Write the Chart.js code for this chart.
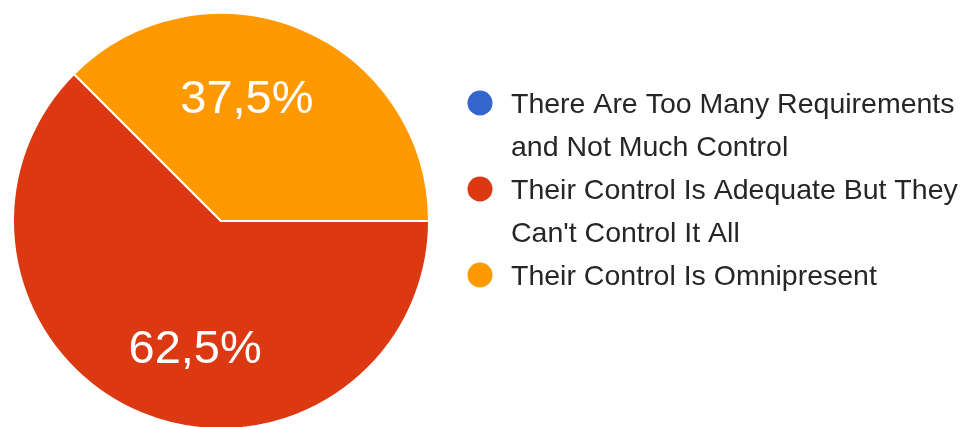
<!DOCTYPE html>
<html>
<head>
<meta charset="utf-8">
<script src="https://cdn.jsdelivr.net/npm/chart.js@4/dist/chart.umd.min.js"></script>
<style>
  html, body { margin: 0; padding: 0; background: #ffffff; overflow: hidden; }
  #wrap { width: 969px; height: 427px; }
</style>
</head>
<body>
<div id="wrap"><canvas id="c" width="969" height="427"></canvas></div>
<script>
// ---- data ----
const categories = [
  "There Are Too Many Requirements and Not Much Control",
  "Their Control Is Adequate But They Can't Control It All",
  "Their Control Is Omnipresent"
];
const shares = [0, 62.5, 37.5];
const sliceColors = ["#3366CC", "#DC3912", "#FF9900"];

const FONT = '"Liberation Sans", Arial, Helvetica, sans-serif';

function fmtPct(v) {
  return v.toFixed(1).replace('.', ',') + '%';
}

// Percentage labels inside slices
const sliceLabels = {
  id: 'sliceLabels',
  afterDatasetsDraw(chart, args, opts) {
    const ctx = chart.ctx;
    const meta = chart.getDatasetMeta(0);
    const data = chart.data.datasets[0].data;
    const total = data.reduce((a, b) => a + b, 0);
    ctx.save();
    ctx.fillStyle = opts.color;
    ctx.font = opts.size + 'px ' + FONT;
    ctx.textAlign = 'center';
    ctx.textBaseline = 'alphabetic';
    meta.data.forEach((arc, i) => {
      const v = data[i];
      if (!v) return;
      const p = arc.getProps(['x', 'y', 'startAngle', 'endAngle', 'outerRadius'], true);
      const mid = (p.startAngle + p.endAngle) / 2;
      const r = p.outerRadius * opts.radiusFrac;
      const lx = p.x + Math.cos(mid) * r * opts.xFactor;
      const ly = p.y + Math.sin(mid) * r;
      ctx.fillText(fmtPct(v / total * 100), lx, ly + opts.size * 0.716 / 2);
    });
    ctx.restore();
  }
};

// Wrapped legend on the right
const wrapLegend = {
  id: 'wrapLegend',
  afterDraw(chart, args, opts) {
    const ctx = chart.ctx;
    const labels = chart.data.labels;
    const colors = chart.data.datasets[0].backgroundColor;
    ctx.save();
    ctx.font = opts.size + 'px ' + FONT;
    ctx.textAlign = 'left';
    ctx.textBaseline = 'alphabetic';
    let lineIdx = 0;
    labels.forEach((text, i) => {
      const words = text.split(' ');
      const lines = [];
      let cur = '';
      words.forEach(w => {
        const test = cur ? cur + ' ' + w : w;
        if (ctx.measureText(test).width > opts.maxWidth && cur) {
          lines.push(cur);
          cur = w;
        } else {
          cur = test;
        }
      });
      if (cur) lines.push(cur);
      const cy = opts.top + lineIdx * opts.lineHeight;
      ctx.fillStyle = colors[i];
      ctx.beginPath();
      ctx.arc(opts.markerX, cy, opts.markerR, 0, Math.PI * 2);
      ctx.fill();
      ctx.fillStyle = opts.color;
      lines.forEach((ln, k) => {
        const y = cy + k * opts.lineHeight + opts.size * 0.716 / 2;
        ctx.fillText(ln, opts.textX, y);
      });
      lineIdx += lines.length;
    });
    ctx.restore();
  }
};

new Chart(document.getElementById('c'), {
  type: 'pie',
  data: {
    labels: categories,
    datasets: [{
      data: shares,
      backgroundColor: sliceColors,
      borderColor: '#ffffff',
      borderWidth: 2,
      radius: 208,
      clip: false
    }]
  },
  options: {
    responsive: false,
    animation: false,
    rotation: 90,
    layout: { padding: { left: 0, right: 527, top: 15, bottom: 0 } },
    plugins: {
      legend: { display: false },
      tooltip: { enabled: false },
      sliceLabels: { color: '#ffffff', size: 47, radiusFrac: 0.65, xFactor: 0.5 },
      wrapLegend: {
        size: 28.5, color: '#262626', markerX: 480, markerR: 12.5,
        textX: 511, top: 103, lineHeight: 43, maxWidth: 452
      }
    }
  },
  plugins: [sliceLabels, wrapLegend]
});
</script>
</body>
</html>
